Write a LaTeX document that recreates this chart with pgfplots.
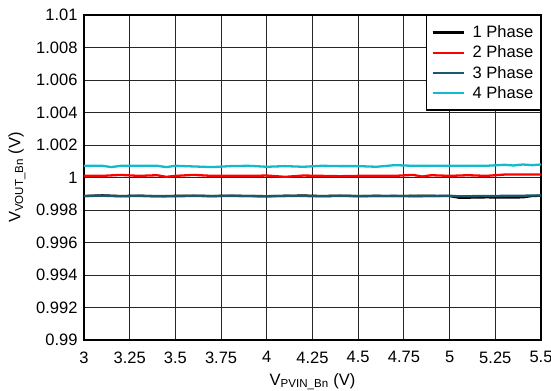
\documentclass[border=0pt]{standalone}
\usepackage{pgfplots}
\pgfplotsset{compat=1.18}
\usepackage{fontspec}
\setmainfont{Liberation Sans}
\definecolor{p1}{RGB}{0,0,0}
\definecolor{p2}{RGB}{255,0,0}
\definecolor{p3}{RGB}{28,88,108}
\definecolor{p4}{RGB}{18,186,206}
\newcommand{\chartfont}{\fontsize{16.5bp}{19bp}\selectfont}
\begin{document}
\begin{tikzpicture}
\begin{axis}[
  scale only axis,
  width=457bp, height=325bp,
  xmin=3, xmax=5.5, ymin=0.99, ymax=1.01,
  xtick={3,3.25,3.5,3.75,4,4.25,4.5,4.75,5,5.25,5.5},
  xticklabels={3,3.25,3.5,3.75,4,4.25,4.5,4.75,5,5.25,5.5},
  ytick={0.99,0.992,0.994,0.996,0.998,1,1.002,1.004,1.006,1.008,1.01},
  yticklabels={0.99,0.992,0.994,0.996,0.998,1,1.002,1.004,1.006,1.008,1.01},
  major tick length=0pt,
  grid=major,
  major grid style={black!85, line width=0.9bp},
  axis line style={black, line width=2bp},
  tick label style={font=\chartfont},
  xticklabel style={yshift=-8bp},
  yticklabel style={xshift=-3bp},
  xlabel={V\textsubscript{PVIN\_Bn} (V)},
  ylabel={V\textsubscript{VOUT\_Bn} (V)},
  label style={font=\chartfont},
  xlabel style={yshift=-3bp},
  ylabel style={yshift=4bp},
  every axis plot/.append style={line width=2.3bp},
  legend cell align=left,
  legend style={at={(1,1)}, anchor=north east, draw=black, line width=1.5bp,
    font=\chartfont, inner xsep=5bp, inner ysep=8bp,
    row sep=2.8bp,
    /tikz/every odd column/.append style={column sep=6bp}},
  legend image code/.code={\draw[#1, line width=2.3bp] (0bp,0bp) -- (31bp,0bp);},
]
\addplot[p1] coordinates {
(3.0,0.99886)(3.1,0.99890)(3.2,0.99886)(3.3,0.99888)(3.4,0.99884)(3.5,0.99887)
(3.6,0.99888)(3.7,0.99886)(3.8,0.99888)(3.9,0.99886)(4.0,0.99885)(4.1,0.99887)
(4.2,0.99889)(4.3,0.99886)(4.4,0.99888)(4.5,0.99886)(4.6,0.99887)(4.7,0.99886)
(4.8,0.99887)(4.9,0.99887)(5.0,0.99886)(5.05,0.99876)(5.1,0.99876)(5.2,0.99878)
(5.3,0.99877)(5.4,0.99878)(5.45,0.99886)(5.5,0.99888)};
\addlegendentry{1 Phase}
\addplot[p2] coordinates {
(3.0,1.00010)(3.1,1.00010)(3.2,1.00016)(3.3,1.00010)(3.4,1.00014)(3.45,1.00004)
(3.5,1.00010)(3.6,1.00016)(3.7,1.00010)(3.8,1.00010)(3.9,1.00010)(4.0,1.00012)
(4.1,1.00004)(4.2,1.00012)(4.3,1.00010)(4.4,1.00008)(4.5,1.00010)(4.6,1.00010)
(4.7,1.00010)(4.8,1.00016)(4.85,1.00006)(4.9,1.00014)(5.0,1.00010)(5.1,1.00014)
(5.2,1.00010)(5.3,1.00018)(5.4,1.00018)(5.5,1.00018)};
\addlegendentry{2 Phase}
\addplot[p3] coordinates {
(3.0,0.99886)(3.1,0.99888)(3.2,0.99884)(3.3,0.99887)(3.4,0.99886)(3.5,0.99884)
(3.6,0.99887)(3.7,0.99885)(3.8,0.99887)(3.9,0.99886)(4.0,0.99884)(4.1,0.99887)
(4.2,0.99886)(4.3,0.99884)(4.4,0.99887)(4.5,0.99885)(4.6,0.99886)(4.7,0.99887)
(4.8,0.99885)(4.9,0.99886)(5.0,0.99888)(5.05,0.99884)(5.1,0.99885)(5.2,0.99886)
(5.3,0.99887)(5.4,0.99888)(5.5,0.99890)};
\addlegendentry{3 Phase}
\addplot[p4] coordinates {
(3.0,1.00072)(3.1,1.00072)(3.15,1.00064)(3.2,1.00072)(3.3,1.00072)(3.4,1.00072)
(3.45,1.00064)(3.5,1.00072)(3.6,1.00068)(3.7,1.00064)(3.8,1.00070)(3.9,1.00072)
(4.0,1.00066)(4.1,1.00070)(4.2,1.00066)(4.3,1.00072)(4.4,1.00070)(4.5,1.00070)
(4.6,1.00066)(4.7,1.00076)(4.8,1.00072)(4.9,1.00072)(5.0,1.00072)(5.1,1.00072)
(5.2,1.00072)(5.3,1.00078)(5.35,1.00074)(5.4,1.00080)(5.45,1.00076)(5.5,1.00080)};
\addlegendentry{4 Phase}
\coordinate (bl) at (rel axis cs:0,0);
\coordinate (tr) at (rel axis cs:1,1);
\end{axis}
\pgfresetboundingbox
\path ([shift={(-84bp,-51bp)}]bl) rectangle ([shift={(10bp,15bp)}]tr);
\end{tikzpicture}
\end{document}
